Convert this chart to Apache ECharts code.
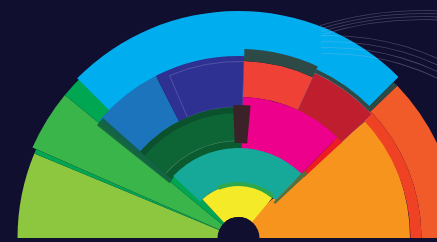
<!DOCTYPE html>
<html>
<head>
<meta charset="utf-8">
<script src="https://cdn.jsdelivr.net/npm/echarts@6/dist/echarts.min.js"></script>
<style>
html, body { margin: 0; padding: 0; background: #110F30; }
#chart { width: 437px; height: 242px; }
</style>
</head>
<body>
<div id="chart"></div>
<script>
// angular spans in degrees, read from the left (180) round to the right (0)
var fanNames = ['lime', 'seam', 'green', 'emerald', 'gap'];
var fanSpans = [22.5, 1.2, 15.8, 7.5, 133];

var sunNames = ['gap', 'orange'];
var sunSpans = [140, 40];

var rimNames = ['gap', 'cyan', 'slate', 'flame'];
var rimSpans = [44.7, 90.1, 1.4, 43.8];

var bandNames = ['gap', 'ember'];
var bandSpans = [136.2, 43.8];

var midNames = ['gap', 'blue', 'indigo', 'red', 'wine', 'gap'];
var midSpans = [40.5, 22.5, 28.8, 23, 22.4, 42.8];

var frameNames = ['gap', 'frame', 'gap'];
var frameSpans = [67, 24.8, 88.2];

var capNames = ['gap', 'capRed', 'capWine', 'gap'];
var capSpans = [91.8, 23, 20.5, 44.7];

var innerNames = ['gap', 'forest', 'magenta', 'scarlet', 'gap'];
var innerSpans = [41, 50.8, 42.7, 2.7, 42.8];

var tabNames = ['gap', 'maroon', 'gap'];
var tabSpans = [87.7, 7.5, 84.8];

var shadeNames = ['gap', 'shade', 'gap'];
var shadeSpans = [38.5, 3, 138.5];

var tealNames = ['gap', 'teal', 'olive', 'gap'];
var tealSpans = [43.5, 91, 2.5, 43];

var coreNames = ['gap', 'yellow', 'gap'];
var coreSpans = [47, 83, 50];

var leafNames = ['gap', 'leaf', 'gap'];
var leafSpans = [68, 62, 50];

var holeNames = ['hole'];
var holeSpans = [180];

var traceNames = ['gap', 'trace', 'gap'];
var traceHighSpans = [73, 37, 70];
var traceLowSpans = [88, 37, 55];

var palette = {
	lime: '#8DC63F', seam: '#00A651', green: '#3AB54A', emerald: '#00A651',
	orange: '#F7941D', cyan: '#00AEEF', slate: '#2E4A47', flame: '#F15A29',
	ember: '#EF4123', blue: '#1C75BC', indigo: '#2E3192', red: '#EF4136',
	wine: '#BE1E2D', capRed: '#2E4A47', capWine: '#2E4A47', forest: '#0D6536',
	magenta: '#EC008C', scarlet: '#ED1C24', maroon: '#3A2228', shade: '#145C3E',
	teal: '#16A99A', olive: '#55703F', yellow: '#F5EA28', leaf: '#2EA84A',
	hole: '#110F30', trace: 'rgba(190,190,225,0.3)', frame: 'rgba(0,0,0,0)'
};

var C = [238.5, 238];
var seriesList = [];

function ring(names, spans, show, r0, r1, center, extra) {
	extra = extra || {};
	seriesList.push({
		type: 'pie',
		center: center || C,
		radius: [r0, r1],
		startAngle: 180,
		endAngle: 0,
		clockwise: true,
		silent: true,
		animation: false,
		minAngle: 0,
		avoidLabelOverlap: false,
		label: { show: false },
		labelLine: { show: false },
		emphasis: { disabled: true },
		z: 2 + seriesList.length,
		data: names.map(function (n, i) {
			var on = show.indexOf(n) >= 0;
			return {
				name: n,
				value: spans[i],
				itemStyle: {
					color: on ? (extra.color || palette[n]) : 'rgba(0,0,0,0)',
					opacity: on && extra.opacity ? extra.opacity : 1,
					borderWidth: on && extra.border ? 0.6 : 0,
					borderColor: on && extra.border ? extra.border : 'rgba(0,0,0,0)'
				}
			};
		})
	});
}

var glint = 'rgba(255,255,255,0.28)';

// full wedges from the middle
ring(fanNames, fanSpans, ['lime', 'seam'], 0, 221);
ring(fanNames, fanSpans, ['green', 'emerald'], 0, 225);
ring(sunNames, sunSpans, ['orange'], 0, 184, [226, 238]);
// outer rim
ring(rimNames, rimSpans, ['flame'], 183, 220);
ring(bandNames, bandSpans, ['ember'], 172, 183);
ring(rimNames, rimSpans, ['cyan'], 180, 227);
ring(rimNames, rimSpans, ['slate'], 176, 220);
// second ring
ring(midNames, midSpans, ['blue', 'indigo'], 130, 182);
ring(frameNames, frameSpans, ['frame'], 131, 176.5, null, { border: glint });
ring(midNames, midSpans, ['red'], 141, 177);
ring(midNames, midSpans, ['wine'], 137, 182, null, { border: glint });
ring(capNames, capSpans, ['capRed'], 177, 189);
ring(capNames, capSpans, ['capWine'], 182, 186);
// third ring
ring(innerNames, innerSpans, ['forest'], 89, 131);
ring(innerNames, innerSpans, ['forest'], 125, 131, null, { color: '#0B512E' });
ring(innerNames, innerSpans, ['forest'], 89, 97, null, { color: '#0B5A30' });
ring(innerNames, innerSpans, ['forest'], 97, 97.6, null, { color: glint });
ring(innerNames, innerSpans, ['magenta', 'scarlet'], 89, 141);
ring(tabNames, tabSpans, ['maroon'], 95, 133);
ring(shadeNames, shadeSpans, ['shade'], 88, 181, null, { opacity: 0.85 });
// inner rings
ring(tealNames, tealSpans, ['teal'], 53, 90);
ring(tealNames, tealSpans, ['olive'], 50, 94);
ring(coreNames, coreSpans, ['yellow'], 21, 53);
ring(leafNames, leafSpans, ['leaf'], 52, 56);
ring(holeNames, holeSpans, ['hole'], 0, 21);
// faint arcs top right
[336, 339, 342, 345].forEach(function (r) {
	ring(traceNames, traceHighSpans, ['trace'], r, r + 0.8, [421, 356]);
});
[246, 252, 258, 264].forEach(function (r) {
	ring(traceNames, traceLowSpans, ['trace'], r, r + 0.8, [330, 300]);
});

var myChart = echarts.init(document.getElementById('chart'));
myChart.setOption({
	backgroundColor: '#110F30',
	animation: false,
	series: seriesList
});
</script>
</body>
</html>
